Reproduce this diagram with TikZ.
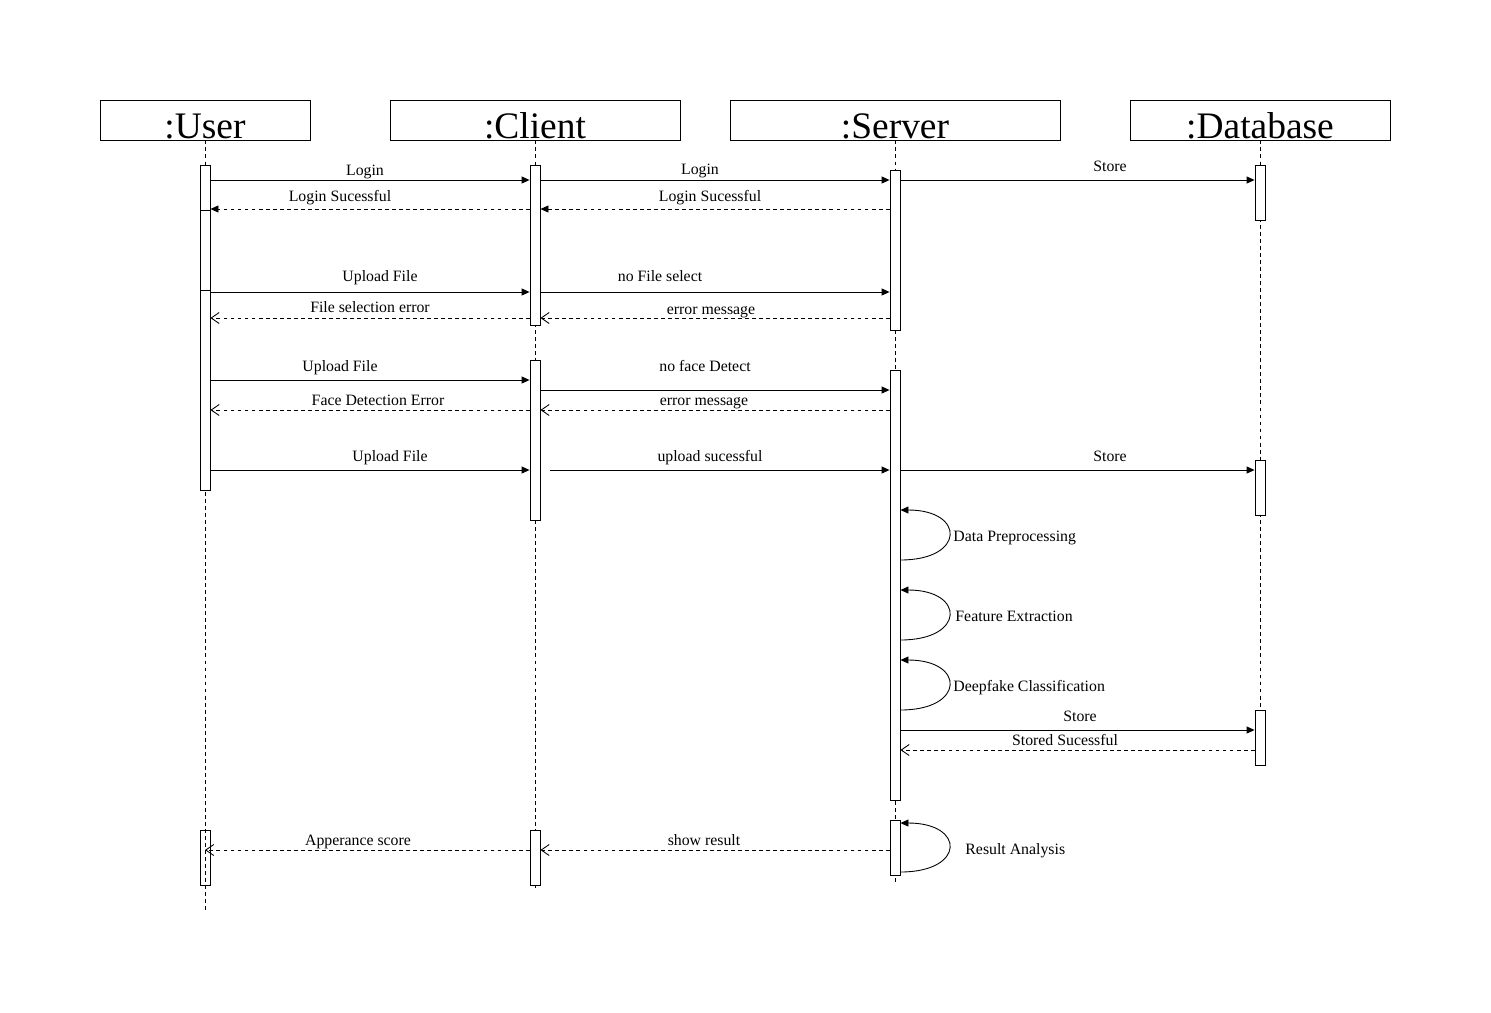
\documentclass[tikz,border=0pt]{standalone}
\usepackage{fontspec}
\setmainfont{Liberation Serif}
\usetikzlibrary{arrows.meta}
\tikzset{
  head/.style={draw, rectangle, minimum height=0.8cm, inner sep=0pt,
    text height=21.6pt, text depth=0pt, font=\fontsize{21.3}{24}\selectfont},
  act/.style={draw, fill=white, rectangle, minimum width=0.2cm, inner sep=0pt},
  life/.style={dash pattern=on 2.2pt off 1.8pt},
  msg/.style={-{Triangle[length=0.16cm,width=0.14cm]}},
  reply/.style={dash pattern=on 2.2pt off 1.8pt, -{Triangle[length=0.16cm,width=0.14cm]}},
  answer/.style={dash pattern=on 2.2pt off 1.8pt, -{Straight Barb[length=0.16cm,width=0.22cm]}},
  lbl/.style={anchor=base, inner sep=0pt, font=\fontsize{9}{11}\selectfont},
}
\begin{document}
\begin{tikzpicture}[x=0.02cm, y=-0.02cm, line width=0.5pt]
  \useasboundingbox (0,0) rectangle (1491,1012);
  % heads
  \node[head, minimum width=4.2cm] (user) at (205,120) {:User};
  \node[head, minimum width=5.8cm] (client) at (535,120) {:Client};
  \node[head, minimum width=6.6cm] (server) at (895,120) {:Server};
  \node[head, minimum width=5.2cm] (db) at (1260,120) {:Database};
  \coordinate (uEnd) at (205,910);
  \coordinate (cEnd) at (535,888);
  \coordinate (sEnd) at (895,885);
  \coordinate (dEnd) at (1260,765);
  \foreach \n/\y in {a/180, b/209, c/292, d/318, e/380, f/390, g/410, h/470,
      i/730, j/750, k/850, p1/510, p2/560, q1/590, q2/640, s1/660, s2/710,
      t1/823, t2/872}
    \coordinate (r\n) at (0,\y);
  % lifelines
  \draw[life] (user.south) -- (uEnd);
  \draw[life] (client.south) -- (cEnd);
  \draw[life] (server.south) -- (sEnd);
  \draw[life] (db.south) -- (dEnd);
  % activations
  \node[act, minimum height=0.9cm] (uAct1) at (205,187.5) {};
  \node[act, minimum height=1.6cm] (uAct2) at (205,250) {};
  \node[act, minimum height=4cm] (uAct3) at (205,390) {};
  \node[act, fill=none, minimum height=1.1cm] (uAct4) at (205,857.5) {};
  \node[act, minimum height=3.2cm] (cAct1) at (535,245) {};
  \node[act, minimum height=3.2cm] (cAct2) at (535,440) {};
  \node[act, minimum height=1.1cm] (cAct3) at (535,857.5) {};
  \node[act, minimum height=3.2cm] (sAct1) at (895,250) {};
  \node[act, minimum height=8.6cm] (sAct2) at (895,585) {};
  \node[act, minimum height=1.1cm] (sAct3) at (895,847.5) {};
  \node[act, minimum height=1.1cm] (dAct1) at (1260,192.5) {};
  \node[act, minimum height=1.1cm] (dAct2) at (1260,487.5) {};
  \node[act, minimum height=1.1cm] (dAct3) at (1260,737.5) {};
  % messages
  \draw[msg] (uAct1.east |- ra) -- (cAct1.west |- ra);
  \draw[msg] (cAct1.east |- ra) -- (sAct1.west |- ra);
  \draw[msg] (sAct1.east |- ra) -- (dAct1.west |- ra);
  \draw[reply] (sAct1.west |- rb) -- (cAct1.east |- rb);
  \draw[reply] (cAct1.west |- rb) -- (uAct2.east |- rb);
  \draw[msg] (uAct3.east |- rc) -- (cAct1.west |- rc);
  \draw[msg] (cAct1.east |- rc) -- (sAct1.west |- rc);
  \draw[answer] (sAct1.west |- rd) -- (cAct1.east |- rd);
  \draw[answer] (cAct1.west |- rd) -- (uAct3.east |- rd);
  \draw[msg] (uAct3.east |- re) -- (cAct2.west |- re);
  \draw[msg] (cAct2.east |- rf) -- (sAct2.west |- rf);
  \draw[answer] (sAct2.west |- rg) -- (cAct2.east |- rg);
  \draw[answer] (cAct2.west |- rg) -- (uAct3.east |- rg);
  \draw[msg] (uAct3.east |- rh) -- (cAct2.west |- rh);
  \draw[msg] ([xshift=0.2cm]cAct2.east |- rh) -- (sAct2.west |- rh);
  \draw[msg] (sAct2.east |- rh) -- (dAct2.west |- rh);
  \draw[msg] (sAct2.east |- rp2) .. controls +(65,0) and +(65,0) .. (sAct2.east |- rp1);
  \draw[msg] (sAct2.east |- rq2) .. controls +(65,0) and +(65,0) .. (sAct2.east |- rq1);
  \draw[msg] (sAct2.east |- rs2) .. controls +(65,0) and +(65,0) .. (sAct2.east |- rs1);
  \draw[msg] (sAct2.east |- ri) -- (dAct3.west |- ri);
  \draw[answer] (dAct3.west |- rj) -- (sAct2.east |- rj);
  \draw[msg] (sAct3.east |- rt2) .. controls +(65,0) and +(65,0) .. (sAct3.east |- rt1);
  \draw[answer] (sAct3.west |- rk) -- (cAct3.east |- rk);
  \draw[answer] (cAct3.west |- rk) -- (uAct4 |- rk);
  % labels
  \node[lbl] (tLogin1) at (365,175) {Login};
  \node[lbl] (tLogin2) at (700,174) {Login};
  \node[lbl] (tStore1) at (1110,171) {Store};
  \node[lbl] (tOk1) at (340,201) {Login Sucessful};
  \node[lbl] (tOk2) at (710,201) {Login Sucessful};
  \node[lbl] (tUp1) at (380,281) {Upload File};
  \node[lbl] (tNoFile) at (660,281) {no File select};
  \node[lbl] (tFileErr) at (370,312) {File selection error};
  \node[lbl] (tErr1) at (711,314) {error message};
  \node[lbl] (tUp2) at (340,371) {Upload File};
  \node[lbl] (tNoFace) at (705,371) {no face Detect};
  \node[lbl] (tFaceErr) at (378,405) {Face Detection Error};
  \node[lbl] (tErr2) at (704,405) {error message};
  \node[lbl] (tUp3) at (390,461) {Upload File};
  \node[lbl] (tUpOk) at (710,461) {upload sucessful};
  \node[lbl] (tStore2) at (1110,461) {Store};
  \node[lbl, anchor=base west] (tPre) at (953,541) {Data Preprocessing};
  \node[lbl, anchor=base west] (tFeat) at (955,621) {Feature Extraction};
  \node[lbl, anchor=base west] (tClass) at (953,691) {Deepfake Classification};
  \node[lbl] (tStore3) at (1080,721) {Store};
  \node[lbl] (tStored) at (1065,745) {Stored Sucessful};
  \node[lbl, anchor=base west] (tRes) at (965,854) {Result Analysis};
  \node[lbl] (tShow) at (704,845) {show result};
  \node[lbl] (tScore) at (358,845) {Apperance score};
\end{tikzpicture}
\end{document}
